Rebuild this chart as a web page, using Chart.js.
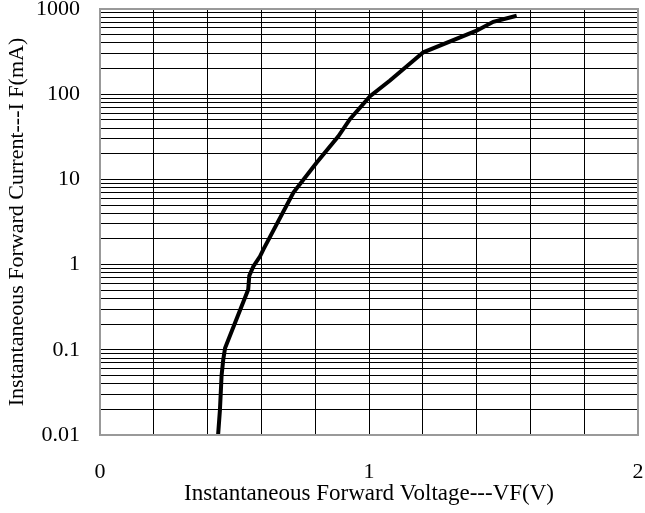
<!DOCTYPE html>
<html>
<head>
<meta charset="utf-8">
<script src="https://cdn.jsdelivr.net/npm/chart.js@4"></script>
<style>
  html, body { margin: 0; padding: 0; background: #fff; }
  #wrap { width: 645px; height: 513px; }
</style>
</head>
<body>
<div id="wrap"><canvas id="vfChart"></canvas></div>
<script>
// forward voltage (V) vs forward current (mA)
const voltage = [0.439, 0.446, 0.452, 0.458, 0.465, 0.551, 0.555, 0.570, 0.595, 0.607, 0.719, 0.805, 0.886, 0.929, 1.004, 1.078, 1.202, 1.400, 1.462, 1.549];
const current = [0.01, 0.02, 0.05, 0.076, 0.105, 0.51, 0.74, 0.95, 1.25, 1.5, 7.0, 15.7, 32, 51, 95, 145, 310, 556, 708, 832];

const xLabels = [0, 1, 2];
const yDecades = [0.01, 0.1, 1, 10, 100, 1000];

const serif = "'Liberation Serif', 'DejaVu Serif', serif";

// gray frame around the plot area
const framePlugin = {
    id: 'frame',
    afterDraw(chart) {
        const a = chart.chartArea;
        const c = chart.ctx;
        c.save();
        c.strokeStyle = '#999';
        c.lineWidth = 2;
        c.strokeRect(a.left, a.top, a.right - a.left, a.bottom - a.top);
        c.restore();
    }
};

const ctx = document.getElementById('vfChart').getContext('2d');
new Chart(ctx, {
    type: 'line',
    data: {
        datasets: [{
            data: voltage.map((v, i) => ({ x: v, y: current[i] })),
            borderColor: '#000',
            borderWidth: 4,
            pointRadius: 0,
            tension: 0,
            fill: false
        }]
    },
    options: {
        responsive: true,
        maintainAspectRatio: false,
        animation: false,
        layout: { padding: { left: 0, right: 7, top: 9, bottom: 0 } },
        plugins: {
            legend: { display: false },
            tooltip: { enabled: false }
        },
        scales: {
            x: {
                type: 'linear',
                min: 0,
                max: 2,
                ticks: {
                    stepSize: 0.2,
                    autoSkip: false,
                    maxRotation: 0,
                    padding: 24,
                    color: '#000',
                    font: { family: serif, size: 22 },
                    callback: v => xLabels.includes(Math.round(v * 1000) / 1000) ? String(Math.round(v)) : ''
                },
                grid: { color: '#000', lineWidth: 1, drawTicks: false },
                border: { display: false },
                title: {
                    display: true,
                    text: 'Instantaneous Forward Voltage---VF(V)',
                    color: '#000',
                    font: { family: serif, size: 23 },
                    padding: { top: 0, bottom: 5 }
                },
                afterFit: s => {
                    s.height = 78;
                    s.paddingLeft = 0;
                    s.paddingRight = 0;
                }
            },
            y: {
                type: 'logarithmic',
                min: 0.01,
                max: 1000,
                afterBuildTicks: s => {
                    const t = [];
                    yDecades.forEach((d, i) => {
                        t.push({ value: d });
                        if (i < yDecades.length - 1) {
                            for (let k = 2; k <= 9; k++) t.push({ value: d * k });
                        }
                    });
                    s.ticks = t;
                },
                ticks: {
                    autoSkip: false,
                    padding: 20,
                    color: '#000',
                    font: { family: serif, size: 22 },
                    callback: v => {
                        const hit = yDecades.find(d => Math.abs(d - v) / d < 1e-6);
                        return hit !== undefined ? String(hit) : '';
                    }
                },
                grid: { color: '#000', lineWidth: 1, drawTicks: false },
                border: { display: false },
                title: {
                    display: true,
                    text: 'Instantaneous Forward Current---I F(mA)',
                    color: '#000',
                    font: { family: serif, size: 22 },
                    padding: { top: 4, bottom: 0 }
                },
                afterFit: s => {
                    s.width = 100;
                    s.paddingTop = 0;
                    s.paddingBottom = 0;
                }
            }
        }
    },
    plugins: [framePlugin]
});
</script>
</body>
</html>
